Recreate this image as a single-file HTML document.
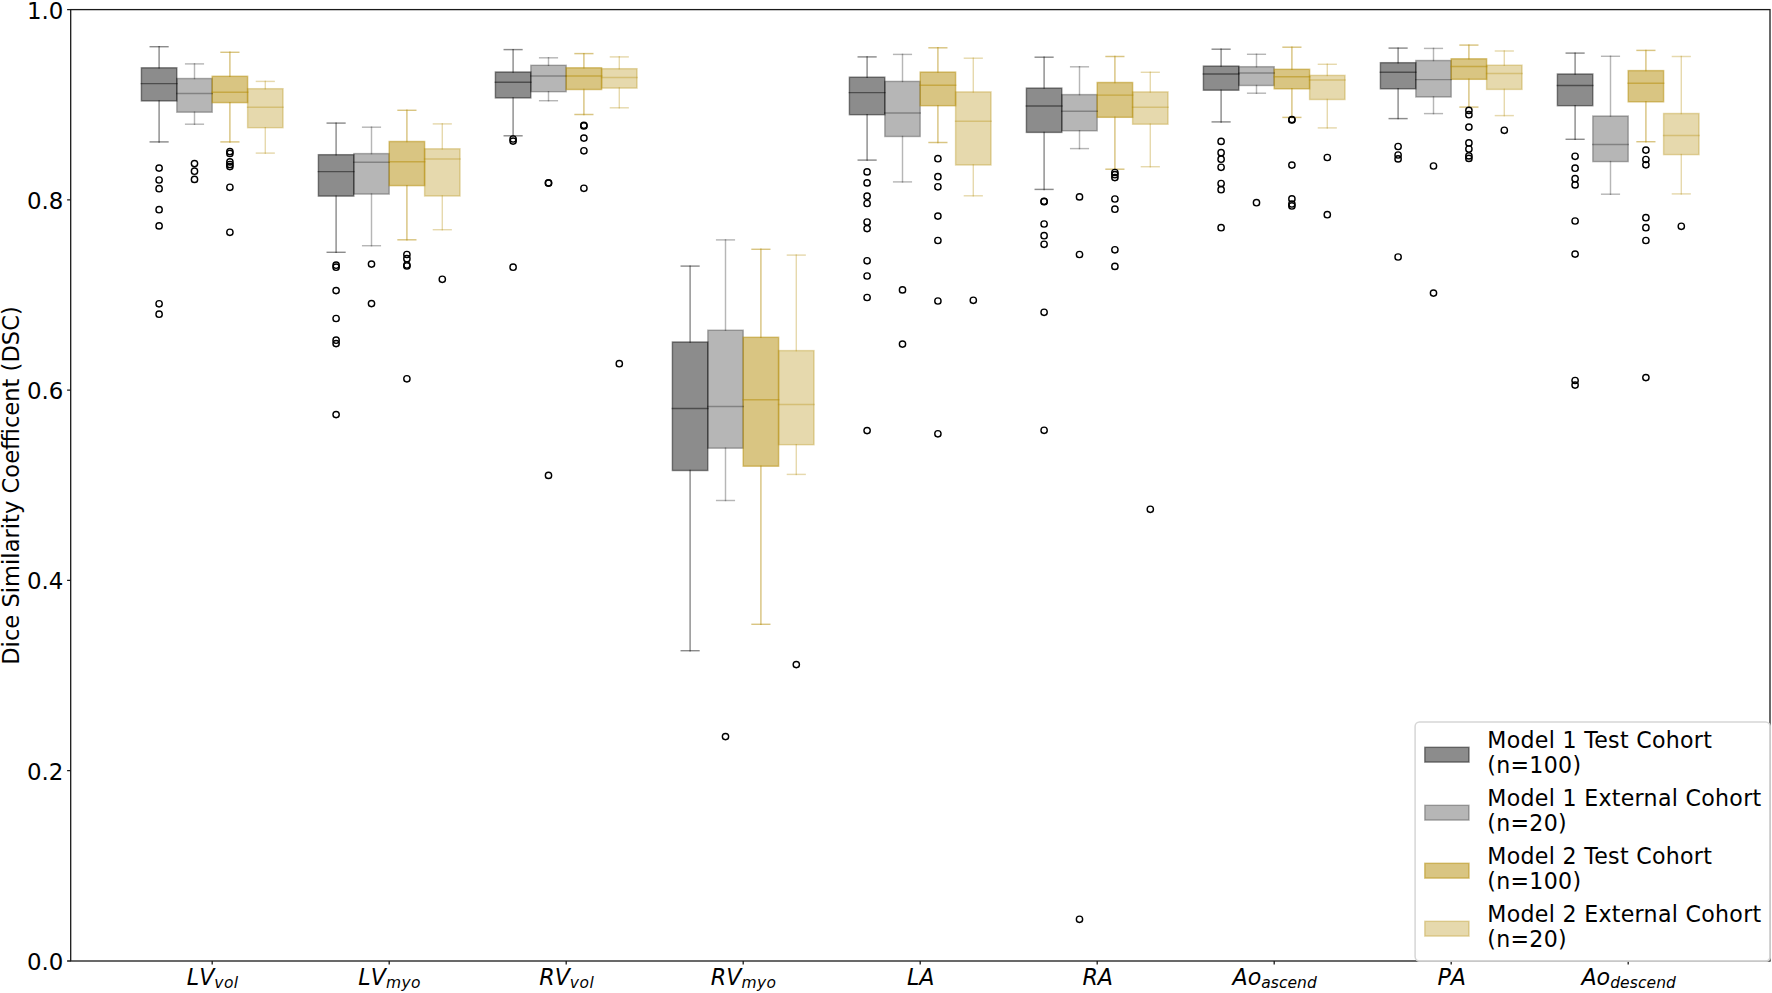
<!DOCTYPE html>
<html lang="en"><head><meta charset="utf-8"><title>Dice Similarity Coefficient boxplot</title>
<style>html,body{margin:0;padding:0;background:#fff}body{width:1772px;height:993px;overflow:hidden}svg{display:block}text{font-family:"DejaVu Sans","Liberation Sans",sans-serif;fill:#000}.it{font-style:italic;font-kerning:none}</style></head><body>
<svg width="1772" height="993" viewBox="0 0 1772 993">
<rect width="1772" height="993" fill="#fff"/>
<g fill="#000000" fill-opacity="0.45" stroke="#000000" stroke-opacity="0.45" stroke-width="1.45">
<rect x="141.4" y="67.8" width="35.4" height="33.1"/>
<rect x="318.4" y="154.7" width="35.4" height="41.4"/>
<rect x="495.4" y="72" width="35.4" height="25.9"/>
<rect x="672.4" y="342" width="35.4" height="128.5"/>
<rect x="849.4" y="77.2" width="35.4" height="37.5"/>
<rect x="1026.4" y="88.1" width="35.4" height="44.3"/>
<rect x="1203.4" y="66.1" width="35.4" height="24.1"/>
<rect x="1380.4" y="62.7" width="35.4" height="26.1"/>
<rect x="1557.4" y="74" width="35.4" height="31.7"/>
</g>
<g fill="#000000" fill-opacity="0.285" stroke="#000000" stroke-opacity="0.285" stroke-width="1.45">
<rect x="176.8" y="78.5" width="35.4" height="33.7"/>
<rect x="353.8" y="153.6" width="35.4" height="40.5"/>
<rect x="530.8" y="65.3" width="35.4" height="26.4"/>
<rect x="707.8" y="330.2" width="35.4" height="118"/>
<rect x="884.8" y="81.4" width="35.4" height="55.1"/>
<rect x="1061.8" y="94.6" width="35.4" height="36.2"/>
<rect x="1238.8" y="66.7" width="35.4" height="18.8"/>
<rect x="1415.8" y="60.5" width="35.4" height="36.5"/>
<rect x="1592.8" y="116" width="35.4" height="45.6"/>
</g>
<g fill="#b48c05" fill-opacity="0.5" stroke="#b48c05" stroke-opacity="0.5" stroke-width="1.45">
<rect x="212.2" y="76.3" width="35.4" height="26.3"/>
<rect x="389.2" y="141.5" width="35.4" height="44.1"/>
<rect x="566.2" y="67.8" width="35.4" height="21.7"/>
<rect x="743.2" y="337.3" width="35.4" height="128.9"/>
<rect x="920.2" y="72.1" width="35.4" height="33.6"/>
<rect x="1097.2" y="82.5" width="35.4" height="34.8"/>
<rect x="1274.2" y="69.3" width="35.4" height="19.5"/>
<rect x="1451.2" y="58.8" width="35.4" height="20.5"/>
<rect x="1628.2" y="70.6" width="35.4" height="31.2"/>
</g>
<g fill="#b48c05" fill-opacity="0.33" stroke="#b48c05" stroke-opacity="0.33" stroke-width="1.45">
<rect x="247.6" y="88.7" width="35.4" height="39"/>
<rect x="424.6" y="148.8" width="35.4" height="47.2"/>
<rect x="601.6" y="68.7" width="35.4" height="19.4"/>
<rect x="778.6" y="350.6" width="35.4" height="94.1"/>
<rect x="955.6" y="91.9" width="35.4" height="73.1"/>
<rect x="1132.6" y="91.9" width="35.4" height="32.3"/>
<rect x="1309.6" y="75.4" width="35.4" height="24.1"/>
<rect x="1486.6" y="65.2" width="35.4" height="24.2"/>
<rect x="1663.6" y="113.5" width="35.4" height="41.1"/>
</g>
<g fill="none" stroke="#000000" stroke-opacity="0.45" stroke-width="1.45" stroke-linecap="square">
<path d="M159.1 67.8V46.7"/><path d="M159.1 100.9V141.9"/><path d="M150.25 46.7H167.95"/><path d="M150.25 141.9H167.95"/><path d="M141.4 83.6H176.8"/>
<path d="M336.1 154.7V123.1"/><path d="M336.1 196.1V252.3"/><path d="M327.25 123.1H344.95"/><path d="M327.25 252.3H344.95"/><path d="M318.4 171.6H353.8"/>
<path d="M513.1 72V49.6"/><path d="M513.1 97.9V135.8"/><path d="M504.25 49.6H521.95"/><path d="M504.25 135.8H521.95"/><path d="M495.4 82.3H530.8"/>
<path d="M690.1 342V266.1"/><path d="M690.1 470.5V650.7"/><path d="M681.25 266.1H698.95"/><path d="M681.25 650.7H698.95"/><path d="M672.4 408.5H707.8"/>
<path d="M867.1 77.2V56.9"/><path d="M867.1 114.7V160.1"/><path d="M858.25 56.9H875.95"/><path d="M858.25 160.1H875.95"/><path d="M849.4 92.6H884.8"/>
<path d="M1044.1 88.1V57.2"/><path d="M1044.1 132.4V189.4"/><path d="M1035.25 57.2H1052.95"/><path d="M1035.25 189.4H1052.95"/><path d="M1026.4 105.9H1061.8"/>
<path d="M1221.1 66.1V49.2"/><path d="M1221.1 90.2V121.9"/><path d="M1212.25 49.2H1229.95"/><path d="M1212.25 121.9H1229.95"/><path d="M1203.4 74H1238.8"/>
<path d="M1398.1 62.7V48.1"/><path d="M1398.1 88.8V118.6"/><path d="M1389.25 48.1H1406.95"/><path d="M1389.25 118.6H1406.95"/><path d="M1380.4 72.2H1415.8"/>
<path d="M1575.1 74V53.1"/><path d="M1575.1 105.7V139.3"/><path d="M1566.25 53.1H1583.95"/><path d="M1566.25 139.3H1583.95"/><path d="M1557.4 85.5H1592.8"/>
</g>
<g fill="none" stroke="#000000" stroke-opacity="0.285" stroke-width="1.45" stroke-linecap="square">
<path d="M194.5 78.5V63.9"/><path d="M194.5 112.2V124.2"/><path d="M185.65 63.9H203.35"/><path d="M185.65 124.2H203.35"/><path d="M176.8 93.4H212.2"/>
<path d="M371.5 153.6V127.2"/><path d="M371.5 194.1V245.7"/><path d="M362.65 127.2H380.35"/><path d="M362.65 245.7H380.35"/><path d="M353.8 162.3H389.2"/>
<path d="M548.5 65.3V57.8"/><path d="M548.5 91.7V100.7"/><path d="M539.65 57.8H557.35"/><path d="M539.65 100.7H557.35"/><path d="M530.8 75.9H566.2"/>
<path d="M725.5 330.2V239.9"/><path d="M725.5 448.2V500.5"/><path d="M716.65 239.9H734.35"/><path d="M716.65 500.5H734.35"/><path d="M707.8 406.4H743.2"/>
<path d="M902.5 81.4V54.4"/><path d="M902.5 136.5V181.9"/><path d="M893.65 54.4H911.35"/><path d="M893.65 181.9H911.35"/><path d="M884.8 112.9H920.2"/>
<path d="M1079.5 94.6V66.8"/><path d="M1079.5 130.8V148.6"/><path d="M1070.65 66.8H1088.35"/><path d="M1070.65 148.6H1088.35"/><path d="M1061.8 111.2H1097.2"/>
<path d="M1256.5 66.7V54.3"/><path d="M1256.5 85.5V93.2"/><path d="M1247.65 54.3H1265.35"/><path d="M1247.65 93.2H1265.35"/><path d="M1238.8 72.9H1274.2"/>
<path d="M1433.5 60.5V48.4"/><path d="M1433.5 97V113.6"/><path d="M1424.65 48.4H1442.35"/><path d="M1424.65 113.6H1442.35"/><path d="M1415.8 79.6H1451.2"/>
<path d="M1610.5 116V56.3"/><path d="M1610.5 161.6V194.2"/><path d="M1601.65 56.3H1619.35"/><path d="M1601.65 194.2H1619.35"/><path d="M1592.8 144.5H1628.2"/>
</g>
<g fill="none" stroke="#b48c05" stroke-opacity="0.5" stroke-width="1.45" stroke-linecap="square">
<path d="M229.9 76.3V52.3"/><path d="M229.9 102.6V141.9"/><path d="M221.05 52.3H238.75"/><path d="M221.05 141.9H238.75"/><path d="M212.2 92.3H247.6"/>
<path d="M406.9 141.5V110.3"/><path d="M406.9 185.6V239.8"/><path d="M398.05 110.3H415.75"/><path d="M398.05 239.8H415.75"/><path d="M389.2 161.7H424.6"/>
<path d="M583.9 67.8V53.6"/><path d="M583.9 89.5V114.5"/><path d="M575.05 53.6H592.75"/><path d="M575.05 114.5H592.75"/><path d="M566.2 75.9H601.6"/>
<path d="M760.9 337.3V249.3"/><path d="M760.9 466.2V624.3"/><path d="M752.05 249.3H769.75"/><path d="M752.05 624.3H769.75"/><path d="M743.2 399.8H778.6"/>
<path d="M937.9 72.1V47.8"/><path d="M937.9 105.7V142.5"/><path d="M929.05 47.8H946.75"/><path d="M929.05 142.5H946.75"/><path d="M920.2 85.2H955.6"/>
<path d="M1114.9 82.5V56.5"/><path d="M1114.9 117.3V169.2"/><path d="M1106.05 56.5H1123.75"/><path d="M1106.05 169.2H1123.75"/><path d="M1097.2 95.1H1132.6"/>
<path d="M1291.9 69.3V47.2"/><path d="M1291.9 88.8V117.4"/><path d="M1283.05 47.2H1300.75"/><path d="M1283.05 117.4H1300.75"/><path d="M1274.2 76.7H1309.6"/>
<path d="M1468.9 58.8V45.1"/><path d="M1468.9 79.3V107.1"/><path d="M1460.05 45.1H1477.75"/><path d="M1460.05 107.1H1477.75"/><path d="M1451.2 66.5H1486.6"/>
<path d="M1645.9 70.6V50.4"/><path d="M1645.9 101.8V141.7"/><path d="M1637.05 50.4H1654.75"/><path d="M1637.05 141.7H1654.75"/><path d="M1628.2 83.2H1663.6"/>
</g>
<g fill="none" stroke="#b48c05" stroke-opacity="0.33" stroke-width="1.45" stroke-linecap="square">
<path d="M265.3 88.7V81.4"/><path d="M265.3 127.7V153.1"/><path d="M256.45 81.4H274.15"/><path d="M256.45 153.1H274.15"/><path d="M247.6 107.3H283"/>
<path d="M442.3 148.8V123.9"/><path d="M442.3 196V229.7"/><path d="M433.45 123.9H451.15"/><path d="M433.45 229.7H451.15"/><path d="M424.6 158.9H460"/>
<path d="M619.3 68.7V56.9"/><path d="M619.3 88.1V107.8"/><path d="M610.45 56.9H628.15"/><path d="M610.45 107.8H628.15"/><path d="M601.6 77.4H637"/>
<path d="M796.3 350.6V255.1"/><path d="M796.3 444.7V474.4"/><path d="M787.45 255.1H805.15"/><path d="M787.45 474.4H805.15"/><path d="M778.6 404.5H814"/>
<path d="M973.3 91.9V58.2"/><path d="M973.3 165V195.8"/><path d="M964.45 58.2H982.15"/><path d="M964.45 195.8H982.15"/><path d="M955.6 121.3H991"/>
<path d="M1150.3 91.9V72.3"/><path d="M1150.3 124.2V166.7"/><path d="M1141.45 72.3H1159.15"/><path d="M1141.45 166.7H1159.15"/><path d="M1132.6 107.3H1168"/>
<path d="M1327.3 75.4V64.3"/><path d="M1327.3 99.5V127.9"/><path d="M1318.45 64.3H1336.15"/><path d="M1318.45 127.9H1336.15"/><path d="M1309.6 79.9H1345"/>
<path d="M1504.3 65.2V51"/><path d="M1504.3 89.4V115.6"/><path d="M1495.45 51H1513.15"/><path d="M1495.45 115.6H1513.15"/><path d="M1486.6 73.4H1522"/>
<path d="M1681.3 113.5V56.5"/><path d="M1681.3 154.6V193.9"/><path d="M1672.45 56.5H1690.15"/><path d="M1672.45 193.9H1690.15"/><path d="M1663.6 135.5H1699"/>
</g>
<circle cx="159.1" cy="168.1" r="3.15" fill="none" stroke="#000" stroke-width="1.4"/>
<circle cx="159.1" cy="180" r="3.15" fill="none" stroke="#000" stroke-width="1.4"/>
<circle cx="159.1" cy="188.7" r="3.15" fill="none" stroke="#000" stroke-width="1.4"/>
<circle cx="159.1" cy="209.7" r="3.15" fill="none" stroke="#000" stroke-width="1.4"/>
<circle cx="159.1" cy="225.9" r="3.15" fill="none" stroke="#000" stroke-width="1.4"/>
<circle cx="159.1" cy="303.8" r="3.15" fill="none" stroke="#000" stroke-width="1.4"/>
<circle cx="159.1" cy="314.2" r="3.15" fill="none" stroke="#000" stroke-width="1.4"/>
<circle cx="194.5" cy="163.6" r="3.15" fill="none" stroke="#000" stroke-width="1.4"/>
<circle cx="194.5" cy="171.2" r="3.15" fill="none" stroke="#000" stroke-width="1.4"/>
<circle cx="194.5" cy="179.4" r="3.15" fill="none" stroke="#000" stroke-width="1.4"/>
<circle cx="229.9" cy="151.6" r="3.15" fill="none" stroke="#000" stroke-width="1.4"/>
<circle cx="229.9" cy="153.5" r="3.15" fill="none" stroke="#000" stroke-width="1.4"/>
<circle cx="229.9" cy="161.9" r="3.15" fill="none" stroke="#000" stroke-width="1.4"/>
<circle cx="229.9" cy="164.5" r="3.15" fill="none" stroke="#000" stroke-width="1.4"/>
<circle cx="229.9" cy="166.6" r="3.15" fill="none" stroke="#000" stroke-width="1.4"/>
<circle cx="229.9" cy="187.3" r="3.15" fill="none" stroke="#000" stroke-width="1.4"/>
<circle cx="229.9" cy="232.3" r="3.15" fill="none" stroke="#000" stroke-width="1.4"/>
<circle cx="336.1" cy="265.2" r="3.15" fill="none" stroke="#000" stroke-width="1.4"/>
<circle cx="336.1" cy="267.2" r="3.15" fill="none" stroke="#000" stroke-width="1.4"/>
<circle cx="336.1" cy="290.6" r="3.15" fill="none" stroke="#000" stroke-width="1.4"/>
<circle cx="336.1" cy="318.5" r="3.15" fill="none" stroke="#000" stroke-width="1.4"/>
<circle cx="336.1" cy="340.2" r="3.15" fill="none" stroke="#000" stroke-width="1.4"/>
<circle cx="336.1" cy="343.6" r="3.15" fill="none" stroke="#000" stroke-width="1.4"/>
<circle cx="336.1" cy="414.6" r="3.15" fill="none" stroke="#000" stroke-width="1.4"/>
<circle cx="371.5" cy="264.1" r="3.15" fill="none" stroke="#000" stroke-width="1.4"/>
<circle cx="371.5" cy="303.6" r="3.15" fill="none" stroke="#000" stroke-width="1.4"/>
<circle cx="406.9" cy="254.5" r="3.15" fill="none" stroke="#000" stroke-width="1.4"/>
<circle cx="406.9" cy="258.7" r="3.15" fill="none" stroke="#000" stroke-width="1.4"/>
<circle cx="406.9" cy="265" r="3.15" fill="none" stroke="#000" stroke-width="1.4"/>
<circle cx="406.9" cy="266" r="3.15" fill="none" stroke="#000" stroke-width="1.4"/>
<circle cx="406.9" cy="378.8" r="3.15" fill="none" stroke="#000" stroke-width="1.4"/>
<circle cx="442.3" cy="279.3" r="3.15" fill="none" stroke="#000" stroke-width="1.4"/>
<circle cx="513.1" cy="139" r="3.15" fill="none" stroke="#000" stroke-width="1.4"/>
<circle cx="513.1" cy="141.1" r="3.15" fill="none" stroke="#000" stroke-width="1.4"/>
<circle cx="513.1" cy="267.2" r="3.15" fill="none" stroke="#000" stroke-width="1.4"/>
<circle cx="548.5" cy="182.9" r="3.15" fill="none" stroke="#000" stroke-width="1.4"/>
<circle cx="548.5" cy="183.1" r="3.15" fill="none" stroke="#000" stroke-width="1.4"/>
<circle cx="548.5" cy="475.4" r="3.15" fill="none" stroke="#000" stroke-width="1.4"/>
<circle cx="583.9" cy="125.3" r="3.15" fill="none" stroke="#000" stroke-width="1.4"/>
<circle cx="583.9" cy="125.9" r="3.15" fill="none" stroke="#000" stroke-width="1.4"/>
<circle cx="583.9" cy="138.1" r="3.15" fill="none" stroke="#000" stroke-width="1.4"/>
<circle cx="583.9" cy="150.8" r="3.15" fill="none" stroke="#000" stroke-width="1.4"/>
<circle cx="583.9" cy="188.3" r="3.15" fill="none" stroke="#000" stroke-width="1.4"/>
<circle cx="619.3" cy="363.7" r="3.15" fill="none" stroke="#000" stroke-width="1.4"/>
<circle cx="725.5" cy="736.6" r="3.15" fill="none" stroke="#000" stroke-width="1.4"/>
<circle cx="796.3" cy="664.6" r="3.15" fill="none" stroke="#000" stroke-width="1.4"/>
<circle cx="867.1" cy="171.9" r="3.15" fill="none" stroke="#000" stroke-width="1.4"/>
<circle cx="867.1" cy="182.9" r="3.15" fill="none" stroke="#000" stroke-width="1.4"/>
<circle cx="867.1" cy="196.2" r="3.15" fill="none" stroke="#000" stroke-width="1.4"/>
<circle cx="867.1" cy="203.5" r="3.15" fill="none" stroke="#000" stroke-width="1.4"/>
<circle cx="867.1" cy="222" r="3.15" fill="none" stroke="#000" stroke-width="1.4"/>
<circle cx="867.1" cy="228.6" r="3.15" fill="none" stroke="#000" stroke-width="1.4"/>
<circle cx="867.1" cy="260.8" r="3.15" fill="none" stroke="#000" stroke-width="1.4"/>
<circle cx="867.1" cy="276" r="3.15" fill="none" stroke="#000" stroke-width="1.4"/>
<circle cx="867.1" cy="297.5" r="3.15" fill="none" stroke="#000" stroke-width="1.4"/>
<circle cx="867.1" cy="430.6" r="3.15" fill="none" stroke="#000" stroke-width="1.4"/>
<circle cx="902.5" cy="289.9" r="3.15" fill="none" stroke="#000" stroke-width="1.4"/>
<circle cx="902.5" cy="344.1" r="3.15" fill="none" stroke="#000" stroke-width="1.4"/>
<circle cx="937.9" cy="158.7" r="3.15" fill="none" stroke="#000" stroke-width="1.4"/>
<circle cx="937.9" cy="176.7" r="3.15" fill="none" stroke="#000" stroke-width="1.4"/>
<circle cx="937.9" cy="186.8" r="3.15" fill="none" stroke="#000" stroke-width="1.4"/>
<circle cx="937.9" cy="216.1" r="3.15" fill="none" stroke="#000" stroke-width="1.4"/>
<circle cx="937.9" cy="240.5" r="3.15" fill="none" stroke="#000" stroke-width="1.4"/>
<circle cx="937.9" cy="301" r="3.15" fill="none" stroke="#000" stroke-width="1.4"/>
<circle cx="937.9" cy="433.8" r="3.15" fill="none" stroke="#000" stroke-width="1.4"/>
<circle cx="973.3" cy="300.3" r="3.15" fill="none" stroke="#000" stroke-width="1.4"/>
<circle cx="1044.1" cy="201.3" r="3.15" fill="none" stroke="#000" stroke-width="1.4"/>
<circle cx="1044.1" cy="201.7" r="3.15" fill="none" stroke="#000" stroke-width="1.4"/>
<circle cx="1044.1" cy="224" r="3.15" fill="none" stroke="#000" stroke-width="1.4"/>
<circle cx="1044.1" cy="235.7" r="3.15" fill="none" stroke="#000" stroke-width="1.4"/>
<circle cx="1044.1" cy="244.3" r="3.15" fill="none" stroke="#000" stroke-width="1.4"/>
<circle cx="1044.1" cy="312.3" r="3.15" fill="none" stroke="#000" stroke-width="1.4"/>
<circle cx="1044.1" cy="430.3" r="3.15" fill="none" stroke="#000" stroke-width="1.4"/>
<circle cx="1079.5" cy="196.9" r="3.15" fill="none" stroke="#000" stroke-width="1.4"/>
<circle cx="1079.5" cy="254.5" r="3.15" fill="none" stroke="#000" stroke-width="1.4"/>
<circle cx="1079.5" cy="919.3" r="3.15" fill="none" stroke="#000" stroke-width="1.4"/>
<circle cx="1114.9" cy="172.5" r="3.15" fill="none" stroke="#000" stroke-width="1.4"/>
<circle cx="1114.9" cy="174.7" r="3.15" fill="none" stroke="#000" stroke-width="1.4"/>
<circle cx="1114.9" cy="177.6" r="3.15" fill="none" stroke="#000" stroke-width="1.4"/>
<circle cx="1114.9" cy="199" r="3.15" fill="none" stroke="#000" stroke-width="1.4"/>
<circle cx="1114.9" cy="209.2" r="3.15" fill="none" stroke="#000" stroke-width="1.4"/>
<circle cx="1114.9" cy="249.8" r="3.15" fill="none" stroke="#000" stroke-width="1.4"/>
<circle cx="1114.9" cy="266.4" r="3.15" fill="none" stroke="#000" stroke-width="1.4"/>
<circle cx="1150.3" cy="509.3" r="3.15" fill="none" stroke="#000" stroke-width="1.4"/>
<circle cx="1221.1" cy="141.4" r="3.15" fill="none" stroke="#000" stroke-width="1.4"/>
<circle cx="1221.1" cy="152.7" r="3.15" fill="none" stroke="#000" stroke-width="1.4"/>
<circle cx="1221.1" cy="159.2" r="3.15" fill="none" stroke="#000" stroke-width="1.4"/>
<circle cx="1221.1" cy="167.3" r="3.15" fill="none" stroke="#000" stroke-width="1.4"/>
<circle cx="1221.1" cy="183.5" r="3.15" fill="none" stroke="#000" stroke-width="1.4"/>
<circle cx="1221.1" cy="189.7" r="3.15" fill="none" stroke="#000" stroke-width="1.4"/>
<circle cx="1221.1" cy="227.7" r="3.15" fill="none" stroke="#000" stroke-width="1.4"/>
<circle cx="1256.5" cy="202.7" r="3.15" fill="none" stroke="#000" stroke-width="1.4"/>
<circle cx="1291.9" cy="119.6" r="3.15" fill="none" stroke="#000" stroke-width="1.4"/>
<circle cx="1291.9" cy="120" r="3.15" fill="none" stroke="#000" stroke-width="1.4"/>
<circle cx="1291.9" cy="165.1" r="3.15" fill="none" stroke="#000" stroke-width="1.4"/>
<circle cx="1291.9" cy="198.9" r="3.15" fill="none" stroke="#000" stroke-width="1.4"/>
<circle cx="1291.9" cy="204" r="3.15" fill="none" stroke="#000" stroke-width="1.4"/>
<circle cx="1291.9" cy="206" r="3.15" fill="none" stroke="#000" stroke-width="1.4"/>
<circle cx="1327.3" cy="157.5" r="3.15" fill="none" stroke="#000" stroke-width="1.4"/>
<circle cx="1327.3" cy="214.7" r="3.15" fill="none" stroke="#000" stroke-width="1.4"/>
<circle cx="1398.1" cy="146.5" r="3.15" fill="none" stroke="#000" stroke-width="1.4"/>
<circle cx="1398.1" cy="155" r="3.15" fill="none" stroke="#000" stroke-width="1.4"/>
<circle cx="1398.1" cy="158.9" r="3.15" fill="none" stroke="#000" stroke-width="1.4"/>
<circle cx="1398.1" cy="257" r="3.15" fill="none" stroke="#000" stroke-width="1.4"/>
<circle cx="1433.5" cy="166" r="3.15" fill="none" stroke="#000" stroke-width="1.4"/>
<circle cx="1433.5" cy="293.1" r="3.15" fill="none" stroke="#000" stroke-width="1.4"/>
<circle cx="1468.9" cy="110.4" r="3.15" fill="none" stroke="#000" stroke-width="1.4"/>
<circle cx="1468.9" cy="114.7" r="3.15" fill="none" stroke="#000" stroke-width="1.4"/>
<circle cx="1468.9" cy="127.1" r="3.15" fill="none" stroke="#000" stroke-width="1.4"/>
<circle cx="1468.9" cy="142.9" r="3.15" fill="none" stroke="#000" stroke-width="1.4"/>
<circle cx="1468.9" cy="149" r="3.15" fill="none" stroke="#000" stroke-width="1.4"/>
<circle cx="1468.9" cy="155.9" r="3.15" fill="none" stroke="#000" stroke-width="1.4"/>
<circle cx="1468.9" cy="158.4" r="3.15" fill="none" stroke="#000" stroke-width="1.4"/>
<circle cx="1504.3" cy="130.3" r="3.15" fill="none" stroke="#000" stroke-width="1.4"/>
<circle cx="1575.1" cy="156.3" r="3.15" fill="none" stroke="#000" stroke-width="1.4"/>
<circle cx="1575.1" cy="168.2" r="3.15" fill="none" stroke="#000" stroke-width="1.4"/>
<circle cx="1575.1" cy="178.7" r="3.15" fill="none" stroke="#000" stroke-width="1.4"/>
<circle cx="1575.1" cy="184.9" r="3.15" fill="none" stroke="#000" stroke-width="1.4"/>
<circle cx="1575.1" cy="221" r="3.15" fill="none" stroke="#000" stroke-width="1.4"/>
<circle cx="1575.1" cy="254.1" r="3.15" fill="none" stroke="#000" stroke-width="1.4"/>
<circle cx="1575.1" cy="380.5" r="3.15" fill="none" stroke="#000" stroke-width="1.4"/>
<circle cx="1575.1" cy="385.1" r="3.15" fill="none" stroke="#000" stroke-width="1.4"/>
<circle cx="1645.9" cy="150.1" r="3.15" fill="none" stroke="#000" stroke-width="1.4"/>
<circle cx="1645.9" cy="159.5" r="3.15" fill="none" stroke="#000" stroke-width="1.4"/>
<circle cx="1645.9" cy="164.8" r="3.15" fill="none" stroke="#000" stroke-width="1.4"/>
<circle cx="1645.9" cy="217.7" r="3.15" fill="none" stroke="#000" stroke-width="1.4"/>
<circle cx="1645.9" cy="227.7" r="3.15" fill="none" stroke="#000" stroke-width="1.4"/>
<circle cx="1645.9" cy="240.5" r="3.15" fill="none" stroke="#000" stroke-width="1.4"/>
<circle cx="1645.9" cy="377.6" r="3.15" fill="none" stroke="#000" stroke-width="1.4"/>
<circle cx="1681.3" cy="226.3" r="3.15" fill="none" stroke="#000" stroke-width="1.4"/>
<rect x="70.7" y="9.6" width="1699.3" height="951.4" fill="none" stroke="#1a1a1a" stroke-width="1.3"/>
<path d="M70.7 961H67.1M70.7 770.72H67.1M70.7 580.44H67.1M70.7 390.16H67.1M70.7 199.88H67.1M70.7 9.6H67.1M212.2 961V964.6M389.2 961V964.6M566.2 961V964.6M743.2 961V964.6M920.2 961V964.6M1097.2 961V964.6M1274.2 961V964.6M1451.2 961V964.6M1628.2 961V964.6" stroke="#1a1a1a" stroke-width="1.3" fill="none"/>
<text x="63.4" y="969.9" font-size="22.9" text-anchor="end">0.0</text>
<text x="63.4" y="779.62" font-size="22.9" text-anchor="end">0.2</text>
<text x="63.4" y="589.34" font-size="22.9" text-anchor="end">0.4</text>
<text x="63.4" y="399.06" font-size="22.9" text-anchor="end">0.6</text>
<text x="63.4" y="208.78" font-size="22.9" text-anchor="end">0.8</text>
<text x="63.4" y="18.5" font-size="22.9" text-anchor="end">1.0</text>
<text transform="translate(18.6 485.5) rotate(-90)" font-size="22.61" text-anchor="middle">Dice Similarity Coefficent (DSC)</text>
<text class="it" x="212.7" y="985.1" font-size="22.2" text-anchor="middle">LV<tspan font-size="15.5" dy="2.9" letter-spacing="0.45">vol</tspan></text>
<text class="it" x="389.7" y="985.1" font-size="22.2" text-anchor="middle">LV<tspan font-size="15.5" dy="2.9" letter-spacing="0.45">myo</tspan></text>
<text class="it" x="566.7" y="985.1" font-size="22.2" text-anchor="middle">RV<tspan font-size="15.5" dy="2.9" letter-spacing="0.45">vol</tspan></text>
<text class="it" x="743.7" y="985.1" font-size="22.2" text-anchor="middle">RV<tspan font-size="15.5" dy="2.9" letter-spacing="0.45">myo</tspan></text>
<text class="it" x="920.7" y="985.1" font-size="22.2" text-anchor="middle">LA</text>
<text class="it" x="1097.7" y="985.1" font-size="22.2" text-anchor="middle">RA</text>
<text class="it" x="1274.7" y="985.1" font-size="22.2" text-anchor="middle">Ao<tspan font-size="15.5" dy="2.9" letter-spacing="0.05">ascend</tspan></text>
<text class="it" x="1451.7" y="985.1" font-size="22.2" text-anchor="middle">PA</text>
<text class="it" x="1628.7" y="985.1" font-size="22.2" text-anchor="middle">Ao<tspan font-size="15.5" dy="2.9" letter-spacing="0.1">descend</tspan></text>
<rect x="1415.1" y="722" width="355.7" height="239.8" rx="4.4" fill="#fff" fill-opacity="0.8"/>
<rect x="1415.1" y="722" width="354.9" height="239" rx="4.4" fill="none" stroke="#cccccc" stroke-opacity="0.8" stroke-width="1.5"/>
<rect x="1424.8" y="747.3" width="44.2" height="14.8" fill="#000000" fill-opacity="0.45" stroke="#000000" stroke-opacity="0.45" stroke-width="1.45"/>
<text x="1487.3" y="747.7" font-size="22.1" letter-spacing="0.3">Model 1 Test Cohort</text>
<text x="1487.3" y="772.6" font-size="22.1" letter-spacing="0.3">(n=100)</text>
<rect x="1424.8" y="805.3" width="44.2" height="14.8" fill="#000000" fill-opacity="0.285" stroke="#000000" stroke-opacity="0.285" stroke-width="1.45"/>
<text x="1487.3" y="805.7" font-size="22.1" letter-spacing="0.3">Model 1 External Cohort</text>
<text x="1487.3" y="830.6" font-size="22.1" letter-spacing="0.3">(n=20)</text>
<rect x="1424.8" y="863.3" width="44.2" height="14.8" fill="#b48c05" fill-opacity="0.5" stroke="#b48c05" stroke-opacity="0.5" stroke-width="1.45"/>
<text x="1487.3" y="863.7" font-size="22.1" letter-spacing="0.3">Model 2 Test Cohort</text>
<text x="1487.3" y="888.6" font-size="22.1" letter-spacing="0.3">(n=100)</text>
<rect x="1424.8" y="921.3" width="44.2" height="14.8" fill="#b48c05" fill-opacity="0.33" stroke="#b48c05" stroke-opacity="0.33" stroke-width="1.45"/>
<text x="1487.3" y="921.7" font-size="22.1" letter-spacing="0.3">Model 2 External Cohort</text>
<text x="1487.3" y="946.6" font-size="22.1" letter-spacing="0.3">(n=20)</text>
</svg></body></html>
